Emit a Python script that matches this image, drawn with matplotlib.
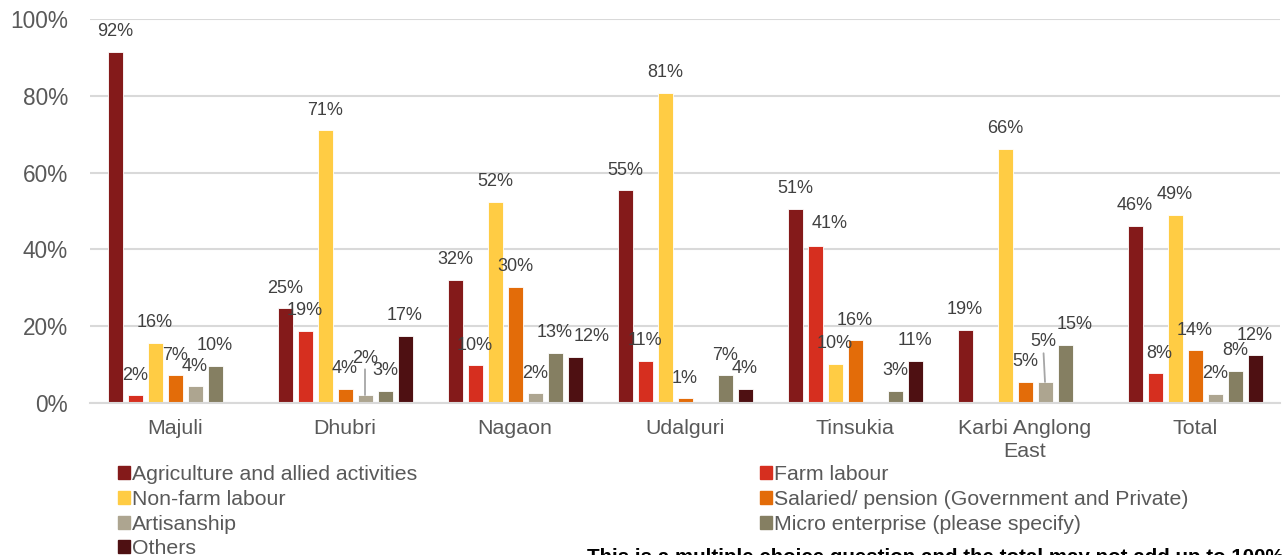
import numpy as np
import matplotlib.pyplot as plt
from matplotlib.patches import Patch
from matplotlib.ticker import PercentFormatter

plt.rcParams['font.family'] = ['Liberation Sans', 'DejaVu Sans']

# categories and series (share of households, %)
districts = ['Majuli', 'Dhubri', 'Nagaon', 'Udalguri', 'Tinsukia', 'Karbi Anglong\nEast', 'Total']
series_names = ['Agriculture and allied activities', 'Farm labour', 'Non-farm labour',
                'Salaried/ pension (Government and Private)', 'Artisanship',
                'Micro enterprise (please specify)', 'Others']

agriculture = [91.5, 24.6, 32.1, 55.4, 50.6, 19.0, 46.1]
farm_labour = [2.0, 18.8, 9.8, 10.9, 40.9, 0, 7.7]
non_farm = [15.7, 71.1, 52.4, 80.8, 10.1, 66.2, 49.0]
salaried = [7.2, 3.7, 30.3, 1.1, 16.3, 5.4, 13.7]
artisanship = [4.3, 2.0, 2.4, 0, 0, 5.4, 2.3]
micro = [9.7, 3.1, 13.0, 7.1, 3.1, 15.0, 8.3]
others = [0, 17.4, 11.8, 3.7, 11.0, 0, 12.4]

values = [agriculture, farm_labour, non_farm, salaried, artisanship, micro, others]
colours = ['#841A1A', '#D62F1F', '#FFCC44', '#E36C09', '#ADA590', '#857F62', '#4E1012']

# label nudges in pixels (district, series) -> (dx, dy above bar top); default (0, 20)
nudges = {(1, 4): (0, 37), (2, 6): (17, 21), (4, 1): (15, 22),
          (5, 4): (-2, 40), (5, 5): (10, 21), (6, 1): (4, 20)}
leaders = [(1, 4), (5, 4)]

fig = plt.figure(figsize=(12.82, 5.55), dpi=100)
ax = fig.add_axes([90 / 1282, 152.3 / 555, 1190 / 1282, 383.4 / 555])

x = np.arange(len(districts))
step = 20 / 170
width = 15 / 170

for j, (vals, col) in enumerate(zip(values, colours)):
    vals = np.array(vals) / 100
    xpos = x + (j - 3) * step
    ax.bar(xpos, vals, width, color=col, edgecolor='white', linewidth=0.6, zorder=2)
    for i, v in enumerate(vals):
        if v == 0:
            continue
        dx, dy = nudges.get((i, j), (0, 20))
        props = None
        if (i, j) in leaders:
            props = dict(arrowstyle='-', color='#A6A6A6', lw=1.3, shrinkA=0, shrinkB=0)
        ax.annotate(f'{round(v * 100):d}%', xy=(xpos[i], v), xytext=(dx, dy),
                    textcoords='offset pixels', ha='center', va='center',
                    fontsize=13, color='#404040', arrowprops=props, zorder=3)

ax.set_xlim(-0.5, len(districts) - 0.5)
ax.set_ylim(0, 1)
ax.set_yticks(np.arange(0, 1.01, 0.2))
ax.yaxis.set_major_formatter(PercentFormatter(1.0, decimals=0))
ax.set_xticks(x)
ax.set_xticklabels(districts, linespacing=1.25)
ax.tick_params(axis='y', length=0, pad=16, labelsize=16.3, labelcolor='#595959')
ax.tick_params(axis='x', length=0, pad=12, labelsize=15.4, labelcolor='#595959')
ax.yaxis.grid(True, color='#D9D9D9', lw=1.5, zorder=0)
ax.set_axisbelow(True)
for s in ['top', 'right', 'left']:
    ax.spines[s].set_visible(False)
ax.spines['bottom'].set_color('#D9D9D9')
ax.spines['bottom'].set_linewidth(1.5)

# legend in two columns, row-major like the original
handles = [Patch(color=c) for c in colours]
left = [0, 2, 4, 6]
right = [1, 3, 5]
kw = dict(frameon=False, fontsize=15.3, labelcolor='#595959', handlelength=0.56,
          handleheight=0.56, handletextpad=0.12, labelspacing=0.27, borderpad=0,
          borderaxespad=0, loc='upper left')
leg1 = fig.legend([handles[k] for k in left], [series_names[k] for k in left],
                  bbox_to_anchor=(118 / 1282, 0.162), **kw)
leg2 = fig.legend([handles[k] for k in right], [series_names[k] for k in right],
                  bbox_to_anchor=(760 / 1282, 0.162), **kw)

# footnote, cut by the bottom edge as in the source image
fig.text(587 / 1282, 0.0125, 'This is a multiple choice question and the total may not add up to 100%',
         fontsize=14.8, fontweight='bold', color='black', va='top', ha='left')

fig.savefig('out.png', dpi=100)
